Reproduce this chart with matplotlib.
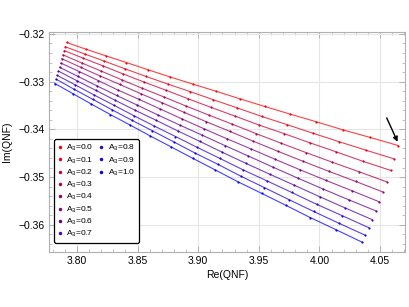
import matplotlib
matplotlib.use("Agg")
import matplotlib.pyplot as plt
from matplotlib.lines import Line2D
from matplotlib.ticker import MultipleLocator

plt.rcParams['font.family'] = ['Liberation Sans', 'DejaVu Sans']
plt.rcParams['mathtext.fontset'] = 'custom'
plt.rcParams['mathtext.rm'] = 'Liberation Sans'
plt.rcParams['mathtext.it'] = 'Liberation Sans:italic'

a3_values = [0.0, 0.1, 0.2, 0.3, 0.4, 0.5, 0.6, 0.7, 0.8, 0.9, 1.0]

# Re(QNF) for each A3 curve
re_qnf = [
    [3.7915, 3.8074, 3.8239, 3.8409, 3.8585, 3.8766, 3.8954, 3.9146, 3.9344, 3.9548, 3.9758, 3.9973, 4.0193, 4.0419, 4.0651],
    [3.7905, 3.8063, 3.8226, 3.8395, 3.8569, 3.8749, 3.8935, 3.9126, 3.9322, 3.9525, 3.9732, 3.9945, 4.0164, 4.0388, 4.0618],
    [3.7896, 3.8053, 3.8215, 3.8382, 3.8555, 3.8734, 3.8918, 3.9107, 3.9302, 3.9503, 3.9709, 3.9920, 4.0137, 4.0360, 4.0588],
    [3.7886, 3.8041, 3.8202, 3.8368, 3.8540, 3.8717, 3.8899, 3.9087, 3.9280, 3.9479, 3.9684, 3.9893, 4.0108, 4.0329, 4.0555],
    [3.7877, 3.8031, 3.8190, 3.8355, 3.8525, 3.8700, 3.8881, 3.9067, 3.9259, 3.9456, 3.9658, 3.9866, 4.0079, 4.0298, 4.0522],
    [3.7867, 3.8020, 3.8178, 3.8342, 3.8511, 3.8685, 3.8865, 3.9050, 3.9240, 3.9436, 3.9637, 3.9843, 4.0055, 4.0272, 4.0495],
    [3.7857, 3.8009, 3.8166, 3.8328, 3.8496, 3.8669, 3.8848, 3.9032, 3.9221, 3.9415, 3.9615, 3.9820, 4.0030, 4.0246, 4.0467],
    [3.7848, 3.7999, 3.8154, 3.8315, 3.8481, 3.8653, 3.8830, 3.9012, 3.9199, 3.9392, 3.9590, 3.9793, 4.0001, 4.0215, 4.0434],
    [3.7838, 3.7988, 3.8142, 3.8302, 3.8467, 3.8638, 3.8813, 3.8994, 3.9180, 3.9372, 3.9568, 3.9770, 3.9977, 4.0189, 4.0407],
    [3.7829, 3.7977, 3.8131, 3.8290, 3.8454, 3.8623, 3.8797, 3.8977, 3.9161, 3.9351, 3.9546, 3.9747, 3.9952, 4.0163, 4.0379],
    [3.7819, 3.7966, 3.8119, 3.8276, 3.8439, 3.8606, 3.8779, 3.8958, 3.9141, 3.9329, 3.9523, 3.9722, 3.9926, 4.0135, 4.0349],
]

# Im(QNF) for each A3 curve
im_qnf = [
    [-0.3218, -0.3232, -0.3246, -0.3260, -0.3275, -0.3290, -0.3305, -0.3320, -0.3336, -0.3352, -0.3368, -0.3384, -0.3401, -0.3417, -0.3434],
    [-0.3227, -0.3242, -0.3257, -0.3273, -0.3289, -0.3305, -0.3321, -0.3338, -0.3355, -0.3373, -0.3390, -0.3408, -0.3426, -0.3444, -0.3462],
    [-0.3235, -0.3251, -0.3267, -0.3284, -0.3301, -0.3318, -0.3336, -0.3354, -0.3372, -0.3391, -0.3409, -0.3428, -0.3447, -0.3467, -0.3486],
    [-0.3244, -0.3261, -0.3278, -0.3296, -0.3314, -0.3332, -0.3351, -0.3370, -0.3389, -0.3409, -0.3429, -0.3449, -0.3469, -0.3489, -0.3510],
    [-0.3252, -0.3270, -0.3288, -0.3306, -0.3325, -0.3344, -0.3364, -0.3384, -0.3404, -0.3425, -0.3446, -0.3467, -0.3488, -0.3509, -0.3531],
    [-0.3261, -0.3279, -0.3298, -0.3318, -0.3337, -0.3357, -0.3378, -0.3399, -0.3420, -0.3441, -0.3463, -0.3485, -0.3507, -0.3529, -0.3552],
    [-0.3270, -0.3289, -0.3309, -0.3329, -0.3349, -0.3370, -0.3391, -0.3412, -0.3434, -0.3456, -0.3479, -0.3502, -0.3525, -0.3548, -0.3571],
    [-0.3278, -0.3298, -0.3318, -0.3339, -0.3360, -0.3381, -0.3403, -0.3425, -0.3448, -0.3471, -0.3494, -0.3517, -0.3541, -0.3565, -0.3589],
    [-0.3287, -0.3307, -0.3328, -0.3349, -0.3371, -0.3393, -0.3415, -0.3438, -0.3461, -0.3485, -0.3508, -0.3532, -0.3557, -0.3581, -0.3606],
    [-0.3295, -0.3316, -0.3337, -0.3359, -0.3381, -0.3403, -0.3426, -0.3450, -0.3473, -0.3498, -0.3522, -0.3547, -0.3572, -0.3597, -0.3622],
    [-0.3304, -0.3325, -0.3347, -0.3369, -0.3391, -0.3414, -0.3437, -0.3461, -0.3485, -0.3510, -0.3534, -0.3559, -0.3585, -0.3610, -0.3636],
]

x_ticks = [3.80, 3.85, 3.90, 3.95, 4.00, 4.05]
y_ticks = [-0.36, -0.35, -0.34, -0.33, -0.32]

fig = plt.figure(figsize=(4.09, 3.07), dpi=100)
ax = fig.add_axes([49/409, 1 - 252/307, 356/409, 220/307])

handles = []
for a, xs, ys in zip(a3_values, re_qnf, im_qnf):
    col = (1 - a, 0, a)
    ax.plot(xs, ys, '-', color=col, lw=0.8, alpha=0.75, zorder=2)
    ax.plot(xs, ys, 'o', color=col, ms=1.6, mew=0, zorder=3)
    handles.append(Line2D([], [], ls='none', marker='o', ms=2.5, mew=0, color=col,
                          label='A$_3$=%.1f' % a))

# first column holds 8 entries, second holds 3
blank = Line2D([], [], ls='none', label=' ')
leg_handles = handles[:8] + handles[8:] + [blank] * 5
ax.legend(handles=leg_handles, ncol=2, loc='lower left',
          bbox_to_anchor=(54/409, 1 - 243/307), bbox_transform=fig.transFigure,
          borderaxespad=0, fontsize=6, handlelength=0.6, handletextpad=0.45,
          labelspacing=0.25, columnspacing=0.6, borderpad=0.45,
          frameon=True, fancybox=True, edgecolor='black', framealpha=1)
leg = ax.get_legend()
leg.get_frame().set_linewidth(0.9)

ax.annotate('', xy=(4.0645, -0.3426), xytext=(4.0555, -0.3376),
            arrowprops=dict(arrowstyle='-|>', color='black', lw=1.0,
                            mutation_scale=7, shrinkA=0, shrinkB=0))

ax.set_xlim(3.777, 4.0706)
ax.set_ylim(-0.3657, -0.3196)
ax.set_xticks(x_ticks)
ax.set_yticks(y_ticks)
ax.set_xticklabels(['%.2f' % v for v in x_ticks])
ax.set_yticklabels(['\u2212%.2f' % abs(v) for v in y_ticks])
ax.xaxis.set_minor_locator(MultipleLocator(0.01))
ax.yaxis.set_minor_locator(MultipleLocator(0.002))
ax.tick_params(which='both', direction='in', color='#aaaaaa', labelsize=7.5,
               top=True, right=True, pad=3)
ax.tick_params(which='major', length=4, width=0.6)
ax.tick_params(which='minor', length=2, width=0.5)
ax.grid(True, color='#e6e6e6', lw=0.8, zorder=0)
for s in ax.spines.values():
    s.set_color('#b0b0b0')
    s.set_linewidth(0.8)

ax.set_xlabel('Re(QNF)', fontsize=7.5, labelpad=3)
ax.set_ylabel('Im(QNF)', fontsize=7.5, labelpad=5)

fig.savefig('out.png', dpi=100)
